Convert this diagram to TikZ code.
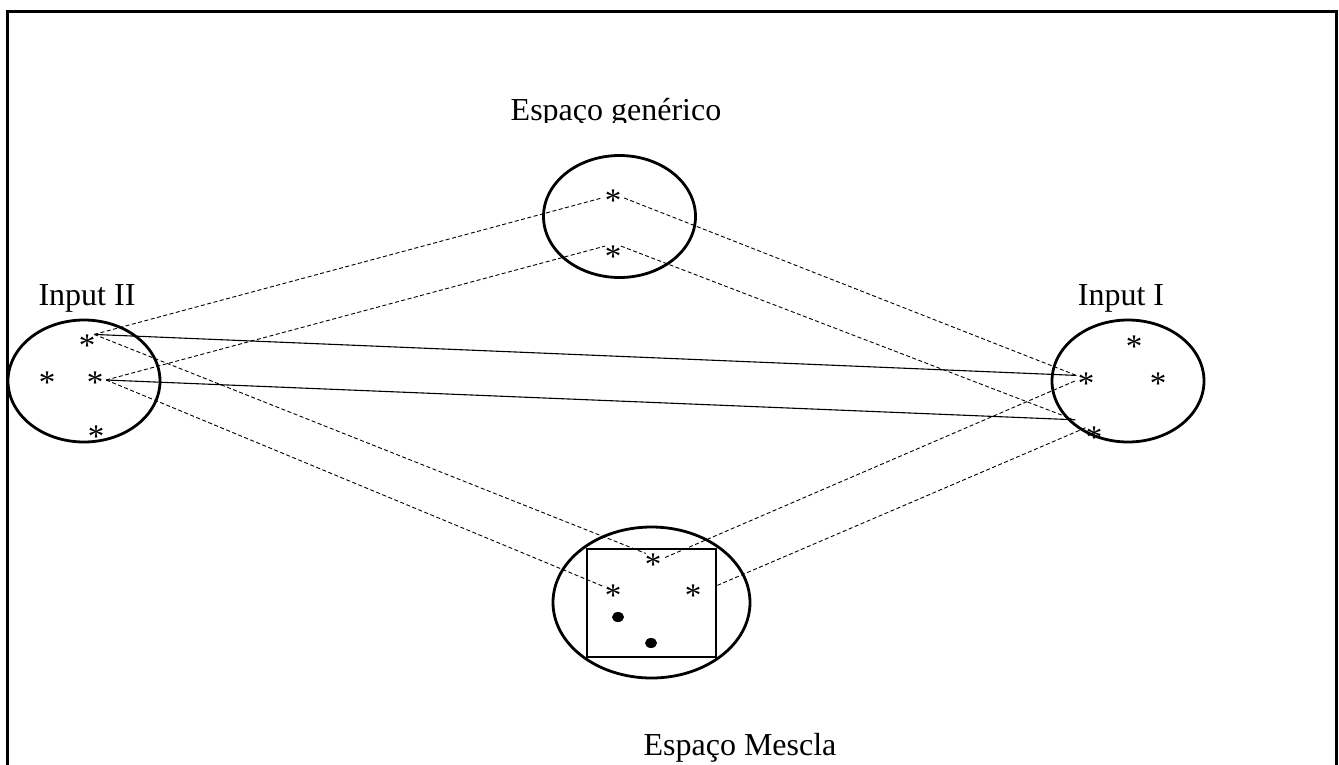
\documentclass[tikz,border=0pt]{standalone}
\usepackage{fontspec}
\setmainfont{Liberation Serif}
\usetikzlibrary{shapes.geometric}
\newcommand{\astr}{\raisebox{-10pt}{*}}

\begin{document}
\begin{tikzpicture}[x=1pt,y=-1pt]
	\tikzset{espaco/.style={draw,ellipse,line width=2.8pt,minimum width=152pt,minimum height=122pt},
	         ast/.style={circle,inner sep=0pt,minimum size=22pt,text height=0.7em,text depth=-0.22em,
	                     font=\fontsize{33}{38}\selectfont},
	         lbl/.style={anchor=base,inner sep=0pt,font=\fontsize{32}{38}\selectfont},
	         link/.style={line width=0.9pt,dash pattern=on 4pt off 2.5pt},
	         bond/.style={line width=1.1pt},
	         dot/.style={fill,ellipse,inner sep=0pt,minimum width=12pt,minimum height=10pt}}

	    \useasboundingbox (0,0) rectangle (1339,764);
	    \draw[line width=3pt] (7,800) -- (7,11) -- (1336,11) -- (1336,800);

	    % espaco generico
	    \node[espaco] (g) at (619.5,216.5) {};
	    \node[ast] (g1) at (613,198) {\astr};
	    \node[ast] (g2) at (613,254) {\astr};
	    \begin{scope}
	    \clip (400,60) rectangle (850,122);
	    \node[lbl] (lg) at (616,120) {Espaço genérico};
	    \end{scope}

	    % input II
	    \node[espaco] (ii) at (84,381) {};
	    \node[ast] (ii1) at (87,343) {\astr};
	    \node[ast] (ii2) at (95,380) {\astr};
	    \node[ast] (ii3) at (47,380) {\astr};
	    \node[ast] (ii4) at (96,434) {\astr};
	    \node[lbl] (lii) at (87,305) {Input II};

	    % input I
	    \node[espaco] (i) at (1128,381) {};
	    \node[ast] (i1) at (1086,381) {\astr};
	    \node[ast] (i2) at (1134,344) {\astr};
	    \node[ast] (i3) at (1158,381) {\astr};
	    \node[ast] (i4) at (1094,435) {\astr};
	    \node[lbl] (li) at (1121,305) {Input I};

	    % espaco mescla
	    \node[espaco,minimum width=197pt,minimum height=151pt] (m) at (651.5,602.5) {};
	    \node[draw,line width=2.8pt,minimum width=129pt,minimum height=108pt] (sq) at (651.5,603) {};
	    \node[ast] (m1) at (653,562) {\astr};
	    \node[ast] (m2) at (613,593) {\astr};
	    \node[ast] (m3) at (693,593) {\astr};
	    \node[dot] (d1) at (618,617) {};
	    \node[dot] (d2) at (651,643) {};
	    \node[lbl] (lm) at (740,755) {Espaço Mescla};

	    \draw[link] (ii1.50) -- (g1.west);
	    \draw[link] (g1.east) -- (i1.150);
	    \draw[link] (ii2.east) -- (g2.135);
	    \draw[link] (g2.45) -- ([shift={(-14,-9)}]i4.140);
	    \draw[bond] (ii1.50) -- (i1.150);
	    \draw[bond] (ii2.east) -- ([shift={(-10,-8)}]i4.140);
	    \draw[link] (ii1.50) -- (m1.130);
	    \draw[link] (ii2.east) -- (m2.145);
	    \draw[link] (i1.west) -- (m1.20);
	    \draw[link] (i4.140) -- (sq.15);

	\end{tikzpicture}
\end{document}
